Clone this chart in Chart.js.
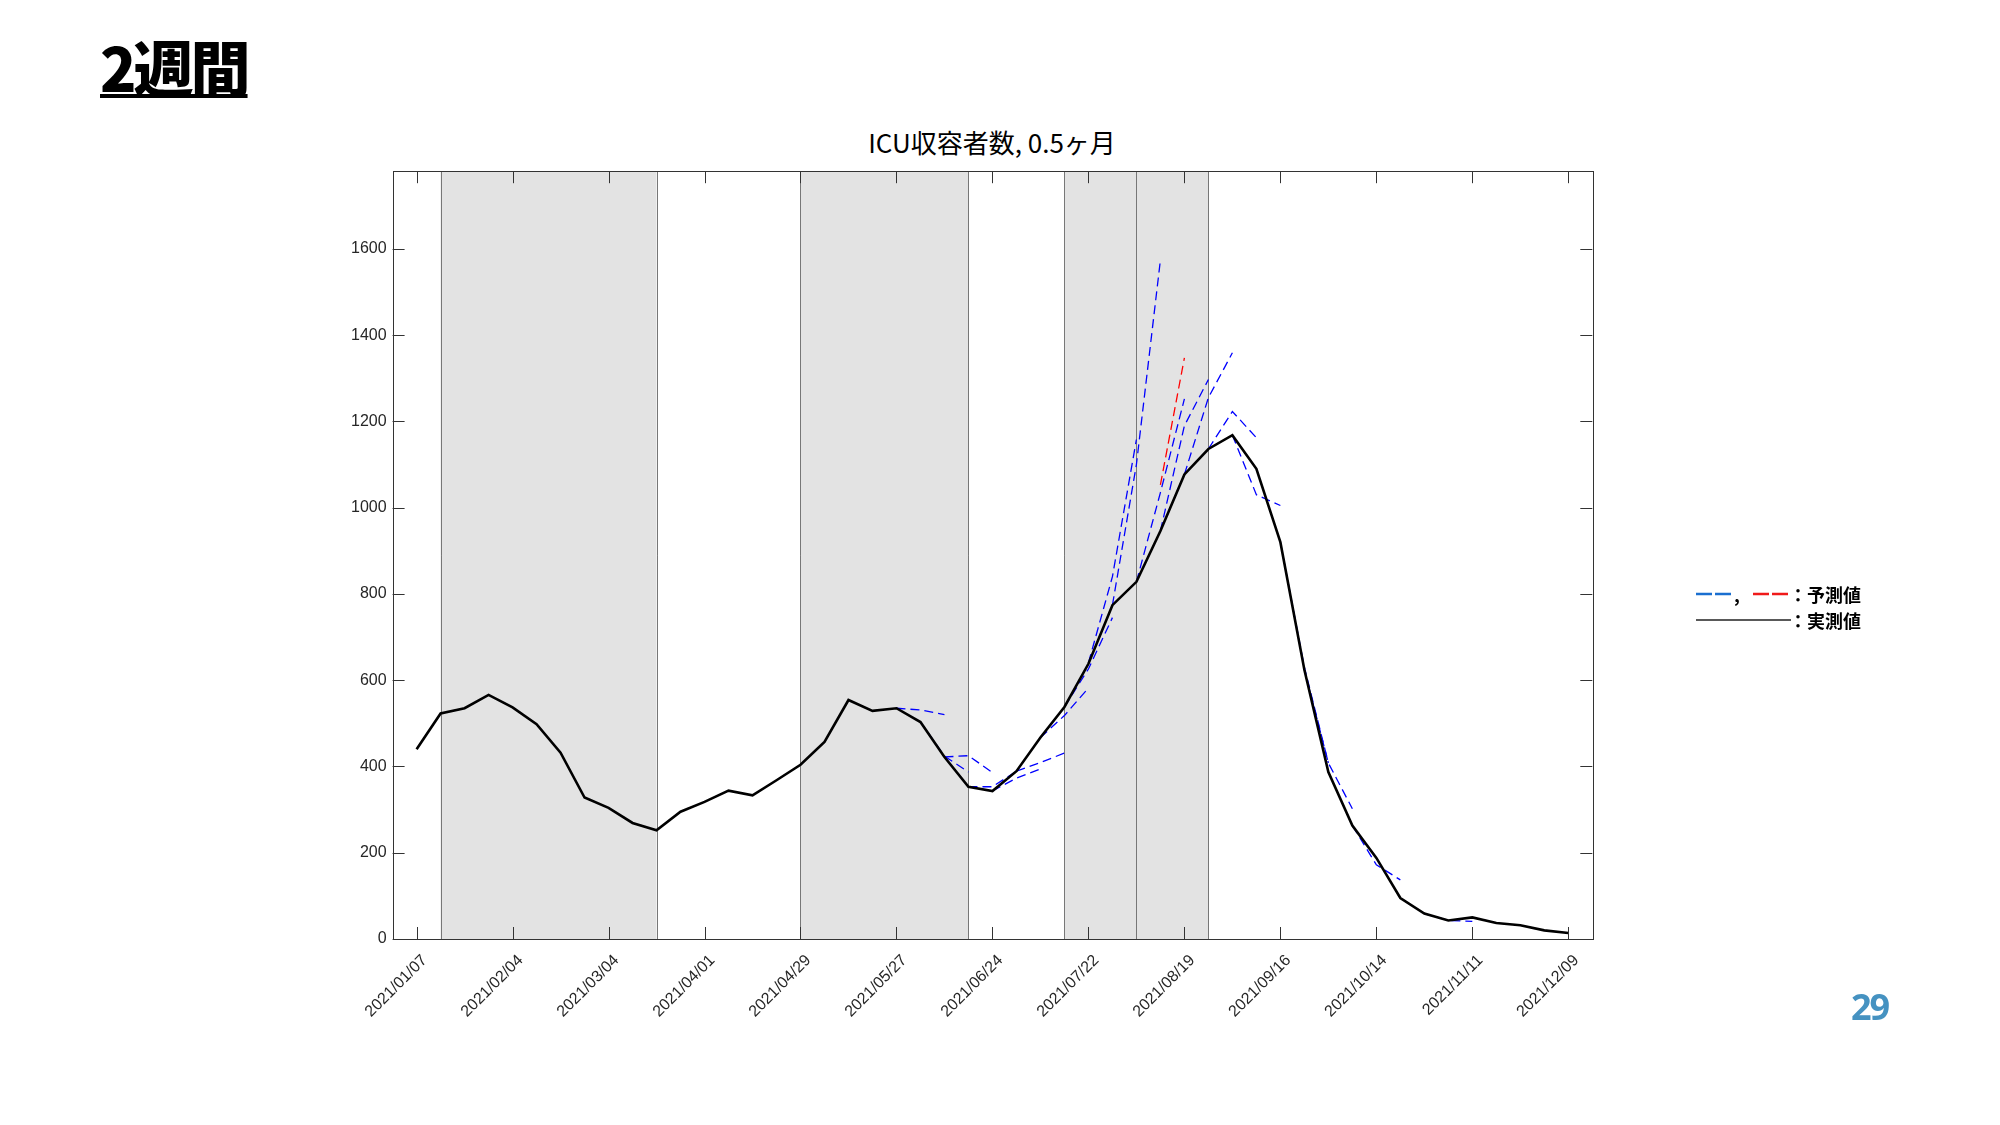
<!DOCTYPE html>
<html lang="ja">
<head>
<meta charset="UTF-8">
<title>ICU収容者数, 0.5ヶ月</title>
<script src="https://cdn.jsdelivr.net/npm/chart.js"></script>
<style>
  body { margin: 0; background: #fff; }
  #page { position: relative; width: 2000px; height: 1125px; overflow: hidden; font-family: "Noto Sans CJK JP", sans-serif; color: #000; }
  #chart { position: absolute; left: 0; top: 0; }
  #heading { position: absolute; left: 100px; top: 36px; font-size: 60px; line-height: 60px; font-weight: 900; letter-spacing: -3px;
             text-decoration: underline; text-decoration-thickness: 4px; text-underline-offset: 2px; }
  #title { position: absolute; left: 792px; width: 400px; top: 127px; text-align: center; font-size: 26px; line-height: 30px; }
  #pageno { position: absolute; left: 1851px; top: 989px; font-family: "Open Sans", sans-serif; font-weight: 700; font-size: 36px; line-height: 36px; color: #4592c1; letter-spacing: -2px; }
  .lg { position: absolute; font-size: 18px; line-height: 20px; font-weight: 700; white-space: nowrap; }
  .lg svg { position: absolute; }
</style>
</head>
<body>
<div id="page">
  <div id="heading">2週間</div>
  <div id="title">ICU収容者数, 0.5ヶ月</div>
  <canvas id="chart" width="2000" height="1125"></canvas>

  <svg class="lg" style="left:1696px;top:591px" width="37" height="6"><line x1="0" y1="3" x2="37" y2="3" stroke="#1a6fd0" stroke-width="2.5" stroke-dasharray="16,3"/></svg>
  <div class="lg" style="left:1734px;top:584px">,</div>
  <svg class="lg" style="left:1753px;top:591px" width="37" height="6"><line x1="0" y1="3" x2="37" y2="3" stroke="#f01a1a" stroke-width="2.5" stroke-dasharray="16,3"/></svg>
  <div class="lg" style="left:1789px;top:584px">：予測値</div>
  <svg class="lg" style="left:1696px;top:617px" width="95" height="6"><line x1="0" y1="3" x2="95" y2="3" stroke="#222" stroke-width="1.5"/></svg>
  <div class="lg" style="left:1789px;top:610px">：実測値</div>

  <div id="pageno">29</div>
</div>

<script>
// weekly observations, one per Thursday starting 2021/01/07
const actualIcu = [440, 523, 535, 566, 537, 498, 432, 328, 304, 269, 252, 295, 318, 344, 333, 368,
                   404, 457, 554, 529, 535, 503, 422, 353, 343, 389, 467, 538, 638, 774, 828, 946,
                   1077, 1136, 1168, 1090, 920, 624, 387, 263, 188, 95, 59, 43, 50, 37, 32, 20, 14];

// 2-week forecasts: start week index and values at start, +1, +2 weeks
const predStart = [20, 21, 22, 23, 24, 25, 26, 27, 28, 29, 30, 31, 32, 33, 34, 36, 37, 39, 42];
const predValues = [
  [535, 531, 520], [503, 424, 387], [422, 425, 386], [353, 353, 389], [343, 373, 394],
  [389, 409, 431], [467, 518, 582], [538, 626, 745], [640, 840, 1158], [774, 1100, 1574],
  [828, 1035, 1252], [946, 1190, 1297], [1077, 1255, 1359], [1136, 1223, 1162], [1168, 1030, 1005],
  [920, 630, 408], [624, 408, 302], [263, 172, 137], [59, 43, 41]
];
const redWeeks = [31, 32];
const redValues = [1053, 1347];

// shaded periods (week indices)
const shadeSpans = [[1, 10], [16, 23], [27, 30], [30, 33]];

const xTickWeeks = [0, 4, 8, 12, 16, 20, 24, 28, 32, 36, 40, 44, 48];
const xTickLabels = ['2021/01/07', '2021/02/04', '2021/03/04', '2021/04/01', '2021/04/29', '2021/05/27',
                     '2021/06/24', '2021/07/22', '2021/08/19', '2021/09/16', '2021/10/14', '2021/11/11', '2021/12/09'];
const yTicks = [0, 200, 400, 600, 800, 1000, 1200, 1400, 1600];

const shadePlugin = {
  id: 'shade',
  beforeDatasetsDraw(chart) {
    const { ctx, chartArea: a, scales: { x } } = chart;
    ctx.save();
    shadeSpans.forEach(([s, e]) => {
      const x0 = x.getPixelForValue(s), x1 = x.getPixelForValue(e);
      ctx.fillStyle = '#e3e3e3';
      ctx.fillRect(x0, a.top, x1 - x0, a.bottom - a.top);
    });
    ctx.strokeStyle = '#777';
    ctx.lineWidth = 1;
    shadeSpans.forEach(([s, e]) => {
      [s, e].forEach(v => {
        const px = Math.round(x.getPixelForValue(v)) + 0.5;
        ctx.beginPath(); ctx.moveTo(px, a.top); ctx.lineTo(px, a.bottom); ctx.stroke();
      });
    });
    ctx.restore();
  }
};

const boxPlugin = {
  id: 'box',
  afterDatasetsDraw(chart) {
    const { ctx, chartArea: a, scales: { x, y } } = chart;
    const len = 12;
    ctx.save();
    ctx.strokeStyle = '#333';
    ctx.lineWidth = 1;
    ctx.beginPath();
    xTickWeeks.forEach(w => {
      const px = Math.round(x.getPixelForValue(w)) + 0.5;
      ctx.moveTo(px, a.bottom); ctx.lineTo(px, a.bottom - len);
      ctx.moveTo(px, a.top); ctx.lineTo(px, a.top + len);
    });
    yTicks.forEach(v => {
      const py = Math.round(y.getPixelForValue(v)) + 0.5;
      ctx.moveTo(a.left, py); ctx.lineTo(a.left + len, py);
      ctx.moveTo(a.right, py); ctx.lineTo(a.right - len, py);
    });
    ctx.stroke();
    ctx.strokeRect(Math.round(a.left) + 0.5, Math.round(a.top) + 0.5, Math.round(a.right - a.left), Math.round(a.bottom - a.top));
    ctx.restore();
  }
};

const datasets = [{
  label: '実測値',
  data: actualIcu.map((v, i) => ({ x: i, y: v })),
  borderColor: '#000',
  borderWidth: 2.6,
  pointRadius: 0,
  tension: 0
}];
predStart.forEach((s, k) => {
  datasets.push({
    label: '予測値',
    data: predValues[k].map((v, j) => ({ x: s + j, y: v })),
    borderColor: '#0000ff',
    borderWidth: 1.3,
    borderDash: [9, 5],
    pointRadius: 0,
    tension: 0
  });
});
datasets.push({
  label: '予測値',
  data: redValues.map((v, j) => ({ x: redWeeks[j], y: v })),
  borderColor: '#ff0000',
  borderWidth: 1.3,
  borderDash: [9, 5],
  pointRadius: 0,
  tension: 0
});

Chart.defaults.font.family = '"Liberation Sans", Arial, sans-serif';
Chart.defaults.color = '#262626';

const chart = new Chart(document.getElementById('chart').getContext('2d'), {
  type: 'line',
  data: { datasets },
  options: {
    responsive: false,
    animation: false,
    layout: { padding: { left: 320, right: 407.7, top: 171.2, bottom: 86 } },
    plugins: {
      legend: { display: false },
      tooltip: { enabled: false },
      title: { display: false }
    },
    scales: {
      x: {
        type: 'linear',
        min: -1,
        max: 49,
        grid: { display: false, drawTicks: false },
        border: { display: false },
        afterFit(scale) { scale.height = 100; },
        afterBuildTicks(scale) { scale.ticks = xTickWeeks.map(v => ({ value: v })); },
        ticks: {
          autoSkip: false,
          maxRotation: 45,
          minRotation: 45,
          padding: 12,
          labelOffset: 8,
          font: { size: 16 },
          callback: (v) => xTickLabels[xTickWeeks.indexOf(v)]
        }
      },
      y: {
        min: 0,
        max: 1780,
        grid: { display: false, drawTicks: false },
        border: { display: false },
        afterFit(scale) { scale.width = 72.6; },
        afterBuildTicks(scale) { scale.ticks = yTicks.map(v => ({ value: v })); },
        ticks: { padding: 6, font: { size: 16 }, callback: (v) => String(v) }
      }
    }
  },
  plugins: [shadePlugin, boxPlugin]
});
</script>
</body>
</html>
